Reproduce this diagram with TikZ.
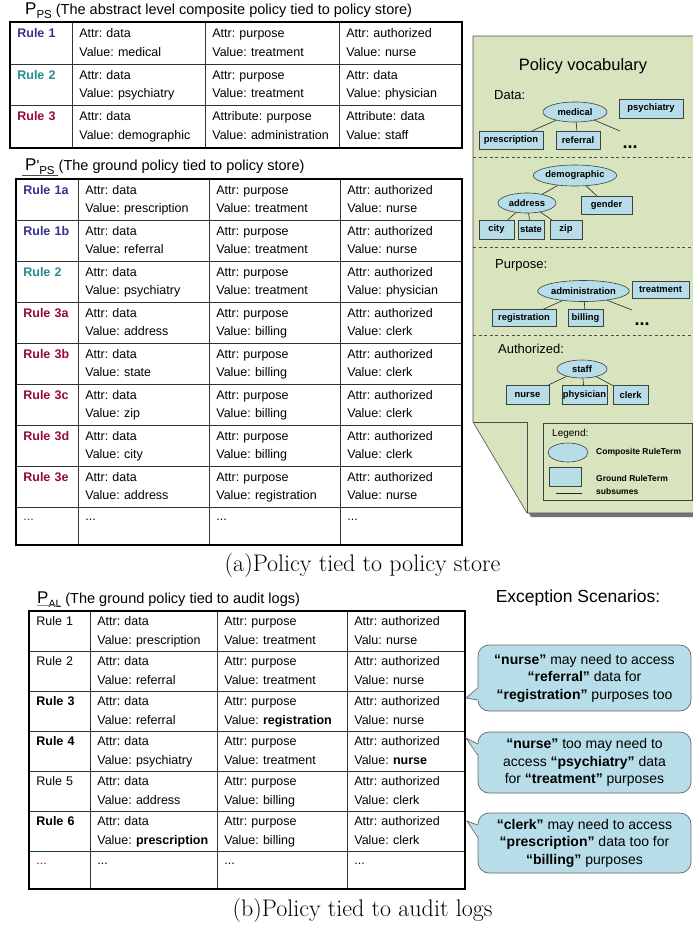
\documentclass[tikz,border=0pt]{standalone}
\usepackage{fontspec}
\usepackage{tikz}
\usetikzlibrary{shapes.geometric}

\newfontfamily\arialfont{Liberation Sans}
\newcommand{\tabfont}{\arialfont\fontsize{12.5}{18.5}\selectfont}
\newcommand{\vocabfont}{\arialfont\bfseries\fontsize{9.4}{11}\selectfont}
\newcommand{\calloutfont}{\arialfont\fontsize{14}{17.5}\selectfont}
\newcommand{\titlefont}{\arialfont\fontsize{14.5}{17}\selectfont}
\newcommand{\twolines}[2]{#1\strut\\#2\strut}
\newcommand{\bigP}{{\fontsize{17}{17}\selectfont P}}
\frenchspacing
\hyphenpenalty=10000

\definecolor{vocabgreen}{RGB}{215,228,189}
\definecolor{termblue}{RGB}{183,221,232}
\definecolor{ruleblue}{RGB}{51,51,140}
\definecolor{ruleteal}{RGB}{38,140,140}
\definecolor{rulered}{RGB}{150,10,50}

\begin{document}
\begin{tikzpicture}[x=1pt, y=-1pt,
    % Define styles for tables, vocabulary terms and callouts
    cell/.style={draw=black!80, line width=0.7pt, anchor=north west, text width=#1, inner xsep=7pt, inner ysep=0pt, align=left, font=\tabfont},
    rulecell/.style={cell=#1, font=\tabfont\bfseries},
    tabframe/.style={draw=black, line width=2.2pt},
    ptitle/.style={anchor=base west, inner sep=0pt, font=\titlefont},
    term/.style={ellipse, draw=black!75, fill=termblue, line width=0.6pt, inner sep=0pt, font=\vocabfont},
    ground/.style={rectangle, draw=black!75, fill=termblue, line width=0.6pt, inner sep=0pt, font=\vocabfont},
    subs/.style={black!85, line width=0.6pt},
    seprule/.style={black!70, line width=0.6pt, dash pattern=on 3pt off 2.5pt},
    heading/.style={anchor=west, inner sep=0pt, font=\arialfont\fontsize{13}{15}\selectfont},
    dots/.style={anchor=base, inner sep=0pt, font=\arialfont\bfseries\fontsize{18}{18}\selectfont},
    legendtext/.style={anchor=west, inner sep=0pt, font=\arialfont\bfseries\fontsize{8.5}{10}\selectfont},
    bubble/.style={rectangle, rounded corners=11pt, draw=black!60, fill=termblue, line width=0.7pt, minimum width=213pt, align=center, font=\calloutfont},
    pointer/.style={draw=black!60, line width=0.7pt},
    figcaption/.style={inner sep=0pt, font=\fontsize{24}{28}\selectfont}
]
    \useasboundingbox (0,0) rectangle (693,929);

    % Policy vocabulary page with folded corner
    \fill[black!55] (477,40) -- (700,40) -- (700,517) -- (531,517) -- (477,426) -- cycle;
    \draw[draw=black!70, fill=vocabgreen, line width=0.6pt] (473,36) -- (700,36) -- (700,513) -- (527,513) -- (473,422) -- cycle;
    \draw[black!70, line width=0.6pt] (473,422) -- (527,422) -- (527,513);

    \node[font=\arialfont\fontsize{16.5}{18}\selectfont] (vocab) at (583,66) {Policy vocabulary};

    % Data terms
    \node[heading] (datah) at (494,95) {Data:};
    \node[term, minimum width=64pt, minimum height=20pt] (medical) at (575,112) {medical};
    \node[ground, minimum width=64pt, minimum height=19pt] (psychiatry) at (651,108.5) {psychiatry};
    \node[ground, minimum width=64pt, minimum height=18pt] (prescription) at (511,140) {prescription};
    \node[ground, minimum width=44pt, minimum height=18pt] (referral) at (578,140) {referral};
    \node[dots] (datadots) at (630,148) {...};
    \coordinate (medtail) at (620,131);
    \draw[seprule] (473,157) -- (700,157);

    \node[term, minimum width=76pt, minimum height=21pt] (demographic) at (575,175.5) {demographic};
    \node[term, minimum width=58pt, minimum height=20pt] (address) at (527,203) {address};
    \node[ground, minimum width=51pt, minimum height=18pt] (gender) at (606.5,205) {gender};
    \node[ground, minimum width=35pt, minimum height=19pt] (city) at (496.5,229.5) {city};
    \node[ground, minimum width=26pt, minimum height=19pt] (state) at (531,229.5) {state};
    \node[ground, minimum width=32pt, minimum height=19pt] (zip) at (566,229.5) {zip};
    \draw[seprule] (473,247) -- (700,247);

    % Purpose terms
    \node[heading] (purposeh) at (495,265) {Purpose:};
    \node[term, minimum width=71pt, minimum height=21pt] (administration) at (583.5,291) {administration};
    \node[ground, minimum width=57pt, minimum height=17pt] (treatment) at (660.5,289.5) {treatment};
    \node[ground, minimum width=64pt, minimum height=17pt] (registration) at (524,318) {registration};
    \node[ground, minimum width=35pt, minimum height=17pt] (billing) at (585.5,318) {billing};
    \node[dots] (purposedots) at (642,325) {...};
    \coordinate (admtail) at (632,310);
    \draw[seprule] (473,335) -- (700,335);

    % Authorized terms
    \node[heading] (authh) at (498,349) {Authorized:};
    \node[term, minimum width=50pt, minimum height=18pt] (staff) at (582,369) {staff};
    \node[ground, minimum width=43pt, minimum height=19pt] (nurse) at (527.5,395) {nurse};
    \node[ground, minimum width=45pt, minimum height=19pt] (physician) at (584.5,395) {physician};
    \node[ground, minimum width=35pt, minimum height=19pt] (clerk) at (630.5,395) {clerk};

    % Subsumption links
    \foreach \a/\b in {medical/prescription, medical/referral, medical/medtail,
                       demographic/address, demographic/gender,
                       address/city, address/state, address/zip,
                       administration/registration, administration/billing, administration/admtail,
                       staff/nurse, staff/physician, staff/clerk}
        \draw[subs] (\a) -- (\b);

    % Legend
    \node[draw=black!75, line width=0.6pt, anchor=north west, inner sep=0pt, minimum width=149pt, minimum height=77pt] (legend) at (543,423) {};
    \node[legendtext, font=\arialfont\fontsize{10}{12}\selectfont] (legendh) at (552,434) {Legend:};
    \node[term, minimum width=40pt, minimum height=19pt] (legterm) at (568,452.5) {};
    \node[ground, minimum width=32pt, minimum height=19pt] (legground) at (565,476.5) {};
    \coordinate (legA) at (556,493);
    \coordinate (legB) at (582,493);
    \draw[subs] (legA) -- (legB);
    \node[legendtext] (legt1) at (596,452.5) {Composite RuleTerm};
    \node[legendtext] (legt2) at (596,478) {Ground RuleTerm};
    \node[legendtext] (legt3) at (596,491) {subsumes};

    % Table P_PS
    \node[ptitle] (pstitle) at (25,14) {\bigP\raisebox{-4pt}{\fontsize{11.5}{11.5}\selectfont PS} (The abstract level composite policy tied to policy store)};
    \foreach \lab/\lc/\aa/\va/\ab/\vb/\ac/\vc [count=\i] in {
        Rule 1/ruleblue/Attr: data/medical/Attr: purpose/treatment/Attr: authorized/nurse,
        Rule 2/ruleteal/Attr: data/psychiatry/Attr: purpose/treatment/Attr: data/physician,
        Rule 3/rulered/Attr: data/demographic/Attribute: purpose/administration/Attribute: data/staff} {
        \pgfmathsetmacro{\y}{22+41.67*(\i-1)}
        \node[rulecell=48pt, minimum height=41.67pt, text=\lc] (ps\i-1) at (10,\y) {\twolines{\lab}{}};
        \node[cell=119pt, minimum height=41.67pt] (ps\i-2) at (72,\y) {\twolines{\aa}{Value: \va}};
        \node[cell=120pt, minimum height=41.67pt] (ps\i-3) at (205,\y) {\twolines{\ab}{Value: \vb}};
        \node[cell=108pt, minimum height=41.67pt] (ps\i-4) at (339,\y) {\twolines{\ac}{Value: \vc}};
    }
    \draw[tabframe] (ps1-1.north west) rectangle (ps3-4.south east);

    % Table P'_PS
    \node[ptitle] (gptitle) at (25,170) {\bigP'\raisebox{-4pt}{\fontsize{11.5}{11.5}\selectfont PS} (The ground policy tied to policy store)};
    \draw[black!70, line width=0.6pt] (22,175) -- (58,175);
    \foreach \lab/\lc/\va/\vb/\vc [count=\i] in {
        Rule 1a/ruleblue/prescription/treatment/nurse,
        Rule 1b/ruleblue/referral/treatment/nurse,
        Rule 2/ruleteal/psychiatry/treatment/physician,
        Rule 3a/rulered/address/billing/clerk,
        Rule 3b/rulered/state/billing/clerk,
        Rule 3c/rulered/zip/billing/clerk,
        Rule 3d/rulered/city/billing/clerk,
        Rule 3e/rulered/address/registration/nurse} {
        \pgfmathsetmacro{\y}{179+41*(\i-1)}
        \node[rulecell=48pt, minimum height=41pt, text=\lc] (gp\i-1) at (16,\y) {\twolines{\lab}{}};
        \node[cell=117pt, minimum height=41pt] (gp\i-2) at (78,\y) {\twolines{Attr: data}{Value: \va}};
        \node[cell=117pt, minimum height=41pt] (gp\i-3) at (209,\y) {\twolines{Attr: purpose}{Value: \vb}};
        \node[cell=107pt, minimum height=41pt] (gp\i-4) at (340,\y) {\twolines{Attr: authorized}{Value: \vc}};
    }
    \node[cell=48pt, minimum height=37pt, text=rulered] (gp9-1) at (16,507) {\twolines{...}{}};
    \node[cell=117pt, minimum height=37pt] (gp9-2) at (78,507) {\twolines{...}{}};
    \node[cell=117pt, minimum height=37pt] (gp9-3) at (209,507) {\twolines{...}{}};
    \node[cell=107pt, minimum height=37pt] (gp9-4) at (340,507) {\twolines{...}{}};
    \draw[tabframe] (gp1-1.north west) rectangle (gp9-4.south east);

    \node[figcaption] (capa) at (362.5,566) {(a)Policy tied to policy store};

    % Table P_AL
    \node[ptitle] (altitle) at (37,603) {\bigP\raisebox{-4pt}{\fontsize{10.5}{10.5}\selectfont AL} (The ground policy tied to audit logs)};
    \draw[black!45, line width=0.8pt] (37,605) -- (60,605);
    \foreach \lab/\va/\vb/\vc [count=\i] in {
        Rule 1/Value: prescription/Value: treatment/Valu: nurse,
        Rule 2/Value: referral/Value: treatment/Value: nurse,
        \textbf{Rule 3}/Value: referral/Value: \textbf{registration}/Value: nurse,
        \textbf{Rule 4}/Value: psychiatry/Value: treatment/Value: \textbf{nurse},
        Rule 5/Value: address/Value: billing/Value: clerk,
        \textbf{Rule 6}/Value: \textbf{prescription}/Value: billing/Value: clerk} {
        \pgfmathsetmacro{\y}{611+40*(\i-1)}
        \node[cell=47pt, minimum height=40pt] (al\i-1) at (29,\y) {\twolines{\lab}{}};
        \node[cell=113pt, minimum height=40pt] (al\i-2) at (90,\y) {\twolines{Attr: data}{\va}};
        \node[cell=116pt, minimum height=40pt] (al\i-3) at (217,\y) {\twolines{Attr: purpose}{\vb}};
        \node[cell=103pt, minimum height=40pt] (al\i-4) at (347,\y) {\twolines{Attr: authorized}{\vc}};
    }
    \node[cell=47pt, minimum height=36pt, text=rulered] (al7-1) at (29,851) {\twolines{...}{}};
    \node[cell=113pt, minimum height=36pt] (al7-2) at (90,851) {\twolines{...}{}};
    \node[cell=116pt, minimum height=36pt] (al7-3) at (217,851) {\twolines{...}{}};
    \node[cell=103pt, minimum height=36pt] (al7-4) at (347,851) {\twolines{...}{}};
    \draw[tabframe] (al1-1.north west) rectangle (al7-4.south east);

    \node[figcaption] (capb) at (362.5,910) {(b)Policy tied to audit logs};

    % Exception scenarios
    \node[font=\arialfont\fontsize{17.5}{20}\selectfont] (exch) at (578,598) {Exception Scenarios:};

    \node[bubble, minimum height=66pt] (ex1) at (584.5,678) {\textbf{“nurse”} may need to access\\\textbf{“referral”} data for\\\textbf{“registration”} purposes too};
    \node[bubble, minimum height=61pt] (ex2) at (584.5,762.5) {\textbf{“nurse”} too may need to\\access \textbf{“psychiatry”} data\\for \textbf{“treatment”} purposes};
    \node[bubble, minimum height=60pt] (ex3) at (584.5,843) {\textbf{“clerk”} may need to access\\\textbf{“prescription”} data too for\\\textbf{“billing”} purposes};

    \coordinate (tip1) at (466,698);
    \coordinate (tip2) at (466,738);
    \coordinate (tip3) at (467,821);
    \foreach \n/\ya/\yb in {1/-10/-22, 2/18.5/7.5, 3/18/6} {
        \fill[termblue] (tip\n) -- ([xshift=1.5pt, yshift=\ya pt]ex\n.west) -- ([xshift=1.5pt, yshift=\yb pt]ex\n.west) -- cycle;
        \draw[pointer] ([yshift=\ya pt]ex\n.west) -- (tip\n) -- ([yshift=\yb pt]ex\n.west);
    }
\end{tikzpicture}
\end{document}
